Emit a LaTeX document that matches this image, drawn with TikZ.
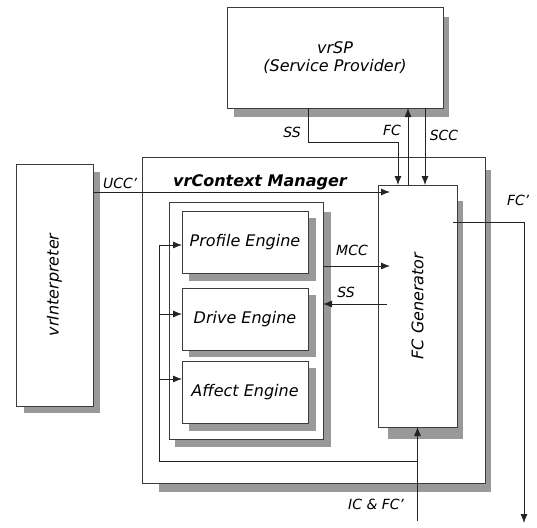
\documentclass[tikz,border=0pt]{standalone}
\usepackage{fontspec}
\setmainfont{DejaVu Sans}[ItalicFont={DejaVu Sans Oblique},BoldItalicFont={DejaVu Sans Bold Oblique}]
\usetikzlibrary{arrows.meta,calc}
\definecolor{shadowc}{RGB}{153,153,153}
\definecolor{edgec}{RGB}{60,60,60}
\definecolor{linec}{RGB}{35,35,35}
\tikzset{
  box/.style={draw=edgec, fill=white, line width=0.8pt, inner sep=0pt, outer sep=0pt, align=center,
    font=\fontsize{16}{18}\selectfont\itshape},
  lbl/.style={inner sep=0pt, font=\fontsize{14}{16}\selectfont\itshape},
  wire/.style={draw=linec, line width=0.8pt},
  arr/.style={wire, -{Latex[length=9pt,width=7pt]}},
  shade/.style={fill=shadowc}
}
\begin{document}
\begin{tikzpicture}[x=1pt,y=-1pt]
\useasboundingbox (0,0) rectangle (537,527);

% drop shadows
\fill[shade] (234,17) rectangle (449,117);
\fill[shade] (24,172) rectangle (100,413);
\fill[shade] (159,170) rectangle (491,492);

% outer blocks
\node[box, minimum width=216pt, minimum height=101pt] (sp) at (335,57.5) {vrSP\\(Service Provider)};
\node[box, minimum width=77pt, minimum height=242pt] (interp) at (54.5,285) {};
\node[rotate=90, font=\fontsize{16}{18}\selectfont\itshape, inner sep=0pt] (interpt) at (interp.center) {vrInterpreter};
\node[box, minimum width=343pt, minimum height=326pt] (mgr) at (313.5,320) {};
\node[inner sep=0pt, font=\fontsize{16}{18}\selectfont\bfseries\itshape] (mgrt) at (260,182) {vrContext Manager};

% engine group
\fill[shade] (175,212) rectangle (331,447);
\node[box, minimum width=154pt, minimum height=237pt] (cont) at (246,320.5) {};
\fill[shade] (189,218) rectangle (316,281);
\fill[shade] (189,295) rectangle (316,357);
\fill[shade] (189,368) rectangle (316,431);
\node[box, minimum width=126pt, minimum height=62pt] (prof) at (245,242) {Profile Engine};
\node[box, minimum width=126pt, minimum height=62pt] (drive) at (245,319) {Drive Engine};
\node[box, minimum width=126pt, minimum height=62pt] (affect) at (245,392) {Affect Engine};

% FC generator
\fill[shade] (388,201) rectangle (463,439);
\node[box, minimum width=79pt, minimum height=242pt] (fcg) at (417.5,306) {};
\node[rotate=90, font=\fontsize{16}{18}\selectfont\itshape, inner sep=0pt] (fcgt) at (fcg.center) {FC Generator};

% free ends
\coordinate (icin) at (417.5,521);
\coordinate (fcout) at (524,523);
\coordinate (lp) at (159,461);

% service provider links
\draw[arr] (sp.south -| 308,0) -- (308,142) -- (398,142) -- (fcg.north -| 398,0);
\draw[arr] (fcg.north -| 408,0) -- (sp.south -| 408,0);
\draw[arr] (sp.south -| 425,0) -- (fcg.north -| 425,0);

% interpreter link
\draw[arr] (interp.east |- 0,192) -- ($(fcg.west |- 0,192)+(12,0)$);

% engine links
\draw[arr] (cont.east |- 0,266) -- ($(fcg.west |- 0,266)+(12,0)$);
\draw[arr] ($(fcg.west |- 0,304)+(9,0)$) -- (cont.east |- 0,304);

% external input and feedback loop
\draw[arr] (icin) -- (fcg.south);
\draw[wire] (icin |- lp) -- (lp) -- (lp |- 0,245);
\draw[arr] (lp |- 0,245) -- (prof.west |- 0,245);
\draw[arr] (lp |- 0,314) -- (drive.west |- 0,314);
\draw[arr] (lp |- 0,379) -- (affect.west |- 0,379);

% output
\draw[arr] ($(fcg.east |- 0,222)+(-4,0)$) -- (fcout |- 0,222) -- (fcout);

% labels
\node[lbl] (l1) at (292,132) {SS};
\node[lbl] (l2) at (392,130) {FC};
\node[lbl] (l3) at (444,135) {SCC};
\node[lbl] (l4) at (120,183) {UCC’};
\node[lbl] (l5) at (352,250) {MCC};
\node[lbl] (l6) at (346,292) {SS};
\node[lbl] (l7) at (518,200) {FC’};
\node[lbl] (l8) at (376,504) {IC \& FC’};
\end{tikzpicture}
\end{document}
